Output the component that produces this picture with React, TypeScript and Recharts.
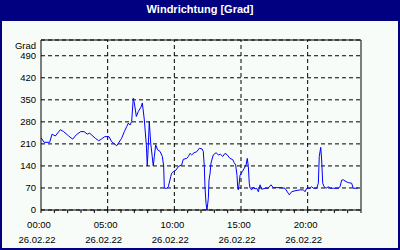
import React from 'react';
import { LineChart, Line, XAxis, YAxis, CartesianGrid, ReferenceLine } from 'recharts';

const title = 'Windrichtung [Grad]';
const unitLabel = 'Grad';
const dateLabel = '26.02.22';

const hours = [
  0, 0.23, 0.65, 0.83, 1.07, 1.45, 1.7, 2.08, 2.38, 2.65, 2.98, 3.23, 3.47, 3.65, 4.07, 4.33, 4.52, 4.78,
  5.1, 5.3, 5.68, 5.8, 6.05, 6.25, 6.43, 6.55, 6.68, 6.8, 6.92, 7.0, 7.15, 7.3, 7.5, 7.6, 7.75, 7.9, 7.97,
  8.05, 8.12, 8.23, 8.42, 8.5, 8.6, 8.75, 8.93, 9.1, 9.2, 9.25, 9.43, 9.55, 9.73, 9.8, 9.92, 10.13, 10.3,
  10.55, 10.67, 10.93, 11.05, 11.18, 11.3, 11.48, 11.68, 11.87, 12.08, 12.17, 12.25, 12.3, 12.38, 12.45,
  12.55, 12.6, 12.68, 12.75, 12.92, 13.13, 13.3, 13.46, 13.63, 13.8, 13.97, 14.17, 14.38, 14.48, 14.6,
  14.7, 14.75, 14.8, 14.85, 14.93, 15.03, 15.1, 15.25, 15.38, 15.47, 15.55, 15.62, 15.68, 15.8, 15.92,
  16.05, 16.18, 16.3, 16.43, 16.55, 16.8, 17.03, 17.25, 17.42, 17.93, 18.3, 18.55, 18.62, 18.8, 19.05,
  19.43, 19.67, 19.8, 19.93, 20.18, 20.3, 20.42, 20.68, 20.8, 20.87, 20.98, 21.05, 21.13, 21.23, 21.38,
  21.55, 21.68, 21.92, 22.3, 22.43, 22.55, 22.67, 22.88, 23.05, 23.3, 23.42, 23.67, 23.8,
];

const degrees = [
  230, 215, 215, 241, 235, 255, 249, 235, 225, 239, 249, 249, 241, 244, 228, 220, 225, 233,
  233, 217, 204, 212, 228, 249, 265, 276, 270, 281, 355, 340, 297, 313, 327, 340, 286, 207, 140,
  207, 281, 212, 140, 170, 207, 191, 186, 170, 140, 69, 69, 74, 106, 117, 122, 127, 138,
  143, 161, 164, 170, 180, 175, 182, 185, 196, 194, 186, 138, 70, 20, 0,
  37, 95, 117, 149, 175, 182, 175, 177, 170, 180, 175, 164, 160, 151, 143,
  110, 74, 64, 80, 111, 117, 122, 133, 143, 164, 138, 85, 69, 64, 72,
  67, 69, 58, 80, 66, 69, 69, 80, 71, 71, 69, 53, 48, 58, 61,
  64, 64, 58, 69, 69, 74, 69, 69, 85, 170, 199, 159, 85, 74, 69,
  74, 69, 69, 69, 74, 95, 96, 90, 87, 85, 69, 69, 70,
];

const leftTicks = [0, 70, 140, 210, 280, 350, 420, 490];
const compassTicks = [0, 45, 90, 135, 180, 225, 270, 315, 360, 405, 450, 495, 540];
const compassLabels = ['N', 'NE', 'E', 'SE', 'S', 'SW', 'W', 'NW', 'N', 'NE', 'E', 'SE', 'S'];
const hourTicks = [0, 1, 2, 3, 4, 5, 6, 7, 8, 9, 10, 11, 12, 13, 14, 15, 16, 17, 18, 19, 20, 21, 22, 23, 24];
const majorHours = [0, 5, 10, 15, 20];

const data = hours.map((h, i) => ({ h, v: degrees[i] }));

const FONT = '"Liberation Sans", Arial, sans-serif';
const FS = 9.5;

const HourTick = (props: any) => {
  const { x, y, payload } = props;
  const h = payload.value as number;
  const isMajor = majorHours.includes(h);
  return (
    <g>
      <line x1={x} y1={y} x2={x} y2={y + 3} stroke="#000" strokeWidth={1} />
      {isMajor && (
        <>
          <text x={x - 2} y={y + 14} textAnchor="middle" dominantBaseline="central" fontSize={FS} fontFamily={FONT} fill="#000">
            {String(h).padStart(2, '0') + ':00'}
          </text>
          <text x={x - 4} y={y + 29} textAnchor="middle" dominantBaseline="central" fontSize={FS} fontFamily={FONT} fill="#000">
            {dateLabel}
          </text>
        </>
      )}
    </g>
  );
};

const UnitLabel = (props: any) => {
  const vb = props.viewBox || { x: 0, y: 40, width: 41 };
  return (
    <text x={vb.x + vb.width - 5} y={vb.y + 5} textAnchor="end" dominantBaseline="central" fontSize={FS} fontFamily={FONT} fill="#000">
      {unitLabel}
    </text>
  );
};

export default function App() {
  return (
    <div style={{ position: 'absolute', left: 0, top: 0, width: 400, height: 250, background: '#000080', overflow: 'hidden' }}>
      <div style={{ position: 'absolute', left: 0, top: 0, width: 400, height: 20, color: '#fff', fontFamily: FONT, fontWeight: 'bold', fontSize: 11, lineHeight: '19px', textAlign: 'center' }}>
        {title}
      </div>
      <div style={{ position: 'absolute', left: 2, top: 21, width: 396, height: 227, background: '#F8FCF8' }} />
      <div style={{ position: 'absolute', left: 0, top: 0 }}>
        <LineChart width={400} height={250} data={data} margin={{ top: 40, right: 0, bottom: 0, left: 0 }}>
          <CartesianGrid yAxisId="left" vertical={false} stroke="#000" strokeDasharray="4 3" />
          <XAxis
            dataKey="h"
            type="number"
            domain={[0, 24]}
            ticks={hourTicks}
            interval={0}
            height={40}
            tickSize={0}
            tickMargin={0}
            tickLine={false}
            tick={<HourTick />}
            axisLine={{ stroke: '#000' }}
            allowDataOverflow
          />
          <YAxis
            yAxisId="left"
            orientation="left"
            domain={[0, 540]}
            ticks={leftTicks}
            interval={0}
            width={41}
            tickSize={0}
            tickMargin={5}
            tickLine={false}
            axisLine={{ stroke: '#000' }}
            tick={{ fill: '#000', fontSize: FS, fontFamily: FONT }}
            label={<UnitLabel />}
          />
          <YAxis
            yAxisId="right"
            orientation="right"
            domain={[0, 540]}
            ticks={compassTicks}
            interval={0}
            width={39}
            tickSize={3}
            tickMargin={1}
            tickLine={{ stroke: '#000' }}
            axisLine={{ stroke: '#000' }}
            tick={{ fill: '#000', fontSize: FS, fontFamily: FONT, textAnchor: 'start' }}
            tickFormatter={(v: number) => compassLabels[compassTicks.indexOf(v)]}
          />
          {majorHours.slice(1).map((h) => (
            <ReferenceLine key={h} x={h} yAxisId="left" stroke="#000" strokeDasharray="4 3" />
          ))}
          <ReferenceLine y={540} yAxisId="left" stroke="#000" />
          <Line
            yAxisId="left"
            type="linear"
            dataKey="v"
            stroke="#0000FF"
            strokeWidth={1}
            dot={false}
            isAnimationActive={false}
          />
        </LineChart>
      </div>
    </div>
  );
}
